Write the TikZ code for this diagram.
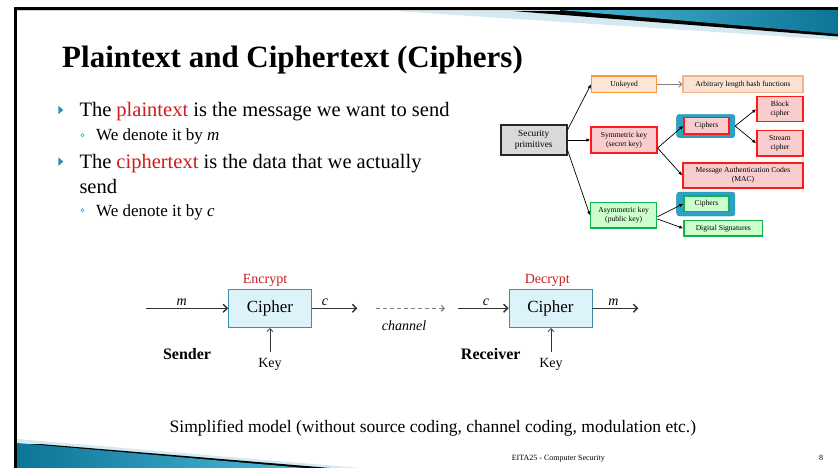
\documentclass[tikz,border=0pt]{standalone}
\usepackage{fontspec}
\setmainfont{Liberation Serif}
\usetikzlibrary{arrows.meta,calc}
\newcommand{\myfs}[2]{\fontsize{#1}{#2}\selectfont}
\definecolor{bultl}{HTML}{2A8FBD}
\definecolor{subbul}{HTML}{5BB5D8}
\definecolor{redtxt}{HTML}{CC1C1C}
\definecolor{cphfill}{HTML}{DCF3F9}
\definecolor{cphdraw}{HTML}{3C8FA6}
\definecolor{grpblue}{HTML}{2BA3C6}
\definecolor{pinkfill}{HTML}{F9CDCD}
\definecolor{redbd}{HTML}{FF1A1A}
\definecolor{greenbd}{HTML}{14B04C}
\definecolor{greenfill}{HTML}{CCFFCC}
\definecolor{orbd}{HTML}{F79A3A}
\definecolor{orfill}{HTML}{FDE6D5}
\definecolor{orbd2}{HTML}{F5B28A}
\definecolor{orfill2}{HTML}{FBE3D3}
\definecolor{grayfill}{HTML}{D9D9D9}
\definecolor{swlight}{HTML}{D4E9F1}
\definecolor{swblueL}{HTML}{4DB8D8}
\definecolor{swblueD}{HTML}{0C7597}
\definecolor{arrgray}{HTML}{333333}
\tikzset{
  tnode/.style={rectangle, inner sep=0pt, align=center, font=\myfs{7.6}{9}, line width=1.4pt},
  redbox/.style={tnode, draw=redbd, fill=pinkfill},
  greenbox/.style={tnode, draw=greenbd, fill=greenfill},
  grpbox/.style={rectangle, fill=grpblue, draw=grpblue!80!black, line width=0.4pt, rounded corners=3pt, inner sep=0pt, minimum width=58.3pt},
  tarr/.style={-{Latex[length=4pt,width=3.4pt]}, line width=0.7pt, black},
  garr/.style={-{Straight Barb[length=3pt,width=6pt]}, line width=0.8pt, gray},
  cphbox/.style={rectangle, draw=cphdraw, fill=cphfill, line width=0.9pt, minimum width=83pt, minimum height=38.7pt, inner sep=0pt, font=\myfs{17}{20}},
  barr/.style={-{Straight Barb[length=4pt,width=8pt]}, line width=1.4pt, arrgray},
  karr/.style={-{Straight Barb[length=3pt,width=6pt]}, line width=0.8pt, arrgray},
  darr/.style={-{Straight Barb[length=3pt,width=6pt]}, line width=1.2pt, gray, dash pattern=on 4pt off 3pt},
  lbl/.style={anchor=base, font=\itshape\myfs{14}{16}},
  body/.style={anchor=base west, font=\myfs{20.5}{24}},
  sub/.style={anchor=base west, font=\myfs{17}{20}}
}
\begin{document}
\begin{tikzpicture}[x=1pt,y=-1pt]
\useasboundingbox (0,0) rectangle (838,468);
\fill[white] (0,0) rectangle (838,468);
% top swoosh
\fill[swlight] (380,10) -- (838,10) -- (838,40) -- cycle;
\fill[black] (500,10) -- (838,10) -- (838,36.5) -- cycle;
\shade[left color=swblueL, right color=swblueD] (560,10) -- (838,10) -- (838,34) -- cycle;
\fill[black] (14,7) rectangle (838,10);
\draw[gray!35, line width=0.8pt] (17,10.6) -- (560,10.6);
% bottom swoosh
\fill[swlight] (17,439) -- (360,468) -- (17,468) -- cycle;
\fill[black] (40,444) -- (330,468) -- (17,468) -- (17,444) -- cycle;
\shade[left color=swblueD, right color=swblueL] (17,443) -- (305,468) -- (17,468) -- cycle;
\fill[black] (14,7) rectangle (17,468);

% title
\node[anchor=base west, font=\bfseries\myfs{31}{35}, inner sep=0pt] (title) at (62,68) {Plaintext and Ciphertext (Ciphers)};

% bullets
\fill[bultl] (58.3,105.7) -- (63.3,110) -- (58.3,114.3) -- cycle;
\fill[bultl] (58.3,157.3) -- (63.3,161.6) -- (58.3,165.9) -- cycle;
\draw[subbul, line width=0.7pt] (82.5,135.3) circle (1.6);
\draw[subbul, line width=0.7pt] (82.5,210.3) circle (1.6);
\node[body, inner sep=0pt] (b1) at (79.3,116.7) {The \textcolor{redtxt}{plaintext} is the message we want to send};
\node[sub, inner sep=0pt] (s1) at (96,141) {We denote it by \textit{m}};
\node[body, inner sep=0pt] (b2) at (79.3,168.3) {The \textcolor{redtxt}{ciphertext} is the data that we actually};
\node[body, inner sep=0pt] (b2b) at (79.3,193.3) {send};
\node[sub, inner sep=0pt] (s2) at (96,216) {We denote it by \textit{c}};

% tree
\node[tnode, draw=black!85, fill=grayfill, line width=1.6pt, minimum width=66pt, minimum height=30pt, font=\myfs{9.3}{10.8}] (sec) at (533.7,140) {Security\\primitives};
\node[tnode, draw=orbd, fill=orfill, minimum width=65pt, minimum height=16.7pt] (unk) at (624.2,84.3) {Unkeyed};
\node[tnode, draw=orbd2, fill=orfill2, minimum width=120pt, minimum height=16.7pt] (hash) at (743,84.3) {Arbitrary length hash functions};
\node[redbox, minimum width=65.7pt, minimum height=25.7pt] (sym) at (624,140) {Symmetric key\\(secret key)};
\node[grpbox, minimum height=23.4pt] (g1) at (705.8,126) {};
\node[redbox, minimum width=45pt, minimum height=16.3pt] (c1) at (706.5,125.8) {Ciphers};
\node[redbox, minimum width=46.3pt, minimum height=25pt] (block) at (780,109.2) {Block\\cipher};
\node[redbox, minimum width=46.3pt, minimum height=25.3pt] (stream) at (780,143.3) {Stream\\cipher};
\node[redbox, minimum width=120pt, minimum height=25pt] (mac) at (743,175.5) {Message Authentication Codes\\(MAC)};
\node[greenbox, minimum width=66pt, minimum height=25.3pt] (asym) at (623.7,215.3) {Asymmetric key\\(public key)};
\node[grpbox, minimum height=24pt] (g2) at (705.8,204) {};
\node[greenbox, minimum width=45pt, minimum height=15.7pt] (c2) at (706.5,203.8) {Ciphers};
\node[greenbox, minimum width=78.7pt, minimum height=15.3pt] (dsig) at (723.3,228.3) {Digital Signatures};

\draw[tarr] ($(sec.east)+(0,-10)$) -- (unk.west);
\draw[tarr] (sec.east) -- (sym.west);
\draw[tarr] ($(sec.east)+(0,10)$) -- (asym.west);
\draw[garr] (unk.east) -- (hash.west);
\draw[tarr] ($(sym.east)+(0,8)$) -- (c1.west);
\draw[tarr] ($(sym.east)+(0,8)$) -- (mac.west);
\draw[tarr] (g1.east) -- (block.west);
\draw[tarr] (g1.east) -- (stream.west);
\draw[tarr] ($(asym.east)+(0,1.4)$) -- (c2.west);
\draw[tarr] ($(asym.east)+(0,3.7)$) -- (dsig.west);

% bottom model
\node[cphbox] (cph1) at (270,308.3) {Cipher};
\node[cphbox] (cph2) at (550.5,308.3) {Cipher};
\node[anchor=base, font=\myfs{14}{16}, text=redtxt] (enc) at (265,283) {Encrypt};
\node[anchor=base, font=\myfs{14}{16}, text=redtxt] (dec) at (547.3,283) {Decrypt};
\coordinate (min) at (146,308.3);
\coordinate (cout) at (357.3,308.3);
\coordinate (chs) at (376,308.3);
\coordinate (che) at (445,308.3);
\coordinate (cin) at (458.3,308.3);
\coordinate (mout) at (638.3,308.3);
\draw[barr] (min) -- (cph1.west);
\draw[barr] (cph1.east) -- (cout);
\draw[darr] (chs) -- (che);
\draw[barr] (cin) -- (cph2.west);
\draw[barr] (cph2.east) -- (mout);
\node[lbl] (lm1) at (181.7,305.5) {m};
\node[lbl] (lc1) at (325,305.5) {c};
\node[lbl] (lc2) at (486,305.5) {c};
\node[lbl] (lm2) at (613.3,305.5) {m};
\node[lbl] (chan) at (404,330.7) {channel};
\node[anchor=base, font=\myfs{14}{16}, inner ysep=6pt] (k1) at (270,367) {Key};
\node[anchor=base, font=\myfs{14}{16}, inner ysep=6pt] (k2) at (551,367) {Key};
\draw[karr] (k1) -- (cph1);
\draw[karr] (k2) -- (cph2.south -| k2);
\node[anchor=base, font=\bfseries\myfs{16}{18}] (snd) at (187,359) {Sender};
\node[anchor=base, font=\bfseries\myfs{16}{18}] (rcv) at (490.7,359) {Receiver};

% caption and footer
\node[anchor=base, font=\myfs{17.5}{20}] (cap) at (432.9,432) {Simplified model (without source coding, channel coding, modulation etc.)};
\node[anchor=base, font=\myfs{8}{9}] (foot) at (558.3,460) {EITA25 - Computer Security};
\node[anchor=base, font=\myfs{8}{9}] (pg) at (821,460) {8};
\end{tikzpicture}
\end{document}
